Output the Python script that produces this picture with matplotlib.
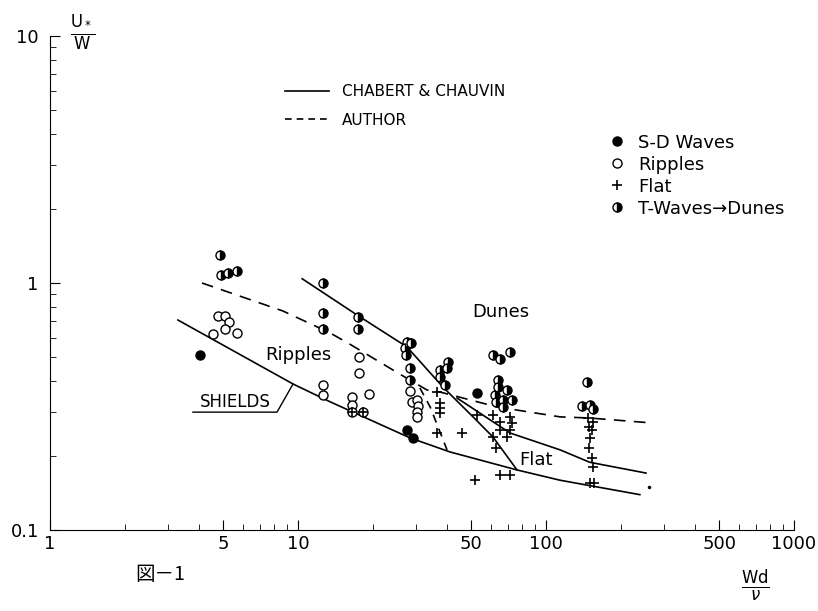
import matplotlib
matplotlib.use("Agg")
import matplotlib.pyplot as plt
from matplotlib.lines import Line2D

# curves (x = Wd/nu, y = U*/W)
shields_x = [3.28, 9.55, 13.5, 28.3, 41.0, 76.4, 114, 239]
shields_y = [0.708, 0.390, 0.330, 0.236, 0.207, 0.175, 0.159, 0.139]

chabert_x = [10.4, 17.3, 27.5, 38.4, 50.8, 61.1, 76.4]
chabert_y = [1.04, 0.742, 0.551, 0.379, 0.287, 0.238, 0.175]
chabert2_x = [43.8, 71.6, 114, 150, 253]
chabert2_y = [0.342, 0.247, 0.211, 0.188, 0.170]

author_x = [4.10, 8.70, 13.5, 16.2, 25.8, 33.1, 37.3, 63.4, 114, 150, 270]
author_y = [1.0, 0.770, 0.627, 0.565, 0.427, 0.369, 0.362, 0.315, 0.287, 0.284, 0.271]
author2_x = [31.0, 34.1, 39.9]
author2_y = [0.376, 0.315, 0.211]

# observations
tw_x = [4.85, 4.88, 5.22, 5.67, 12.6, 12.6, 12.6, 17.5, 17.5,
        27.5, 28.5, 27.0, 27.3, 28.3, 28.3, 40.3, 39.9, 37.3, 37.3, 39.0,
        61.1, 65.1, 71.6, 64.1, 64.1, 69.6, 62.1, 67.0, 73.1, 63.1, 67.0,
        146, 140, 150, 154]
tw_y = [1.30, 1.08, 1.10, 1.12, 1.0, 0.756, 0.652, 0.728, 0.652,
        0.577, 0.572, 0.545, 0.511, 0.453, 0.405, 0.479, 0.453, 0.444, 0.417, 0.386,
        0.511, 0.492, 0.526, 0.405, 0.379, 0.369, 0.352, 0.336, 0.336, 0.330, 0.315,
        0.397, 0.318, 0.321, 0.309]

sd_x = [4.03, 27.5, 29.0, 52.7]
sd_y = [0.511, 0.254, 0.236, 0.359]

rip_x = [4.76, 5.07, 5.27, 5.07, 4.54, 5.67, 17.6, 17.6, 12.6, 12.6, 16.5, 16.5,
         19.3, 16.5, 18.3, 28.3, 28.7, 30.1, 30.5, 30.1, 30.1]
rip_y = [0.735, 0.735, 0.695, 0.652, 0.622, 0.628, 0.501, 0.432, 0.386, 0.352, 0.346, 0.321,
         0.355, 0.300, 0.300, 0.365, 0.330, 0.336, 0.318, 0.301, 0.287]

flat_x = [16.5, 18.3, 36.4, 37.3, 37.3, 37.3, 36.4, 45.8, 51.7, 65.1, 71.6,
          52.7, 61.1, 65.1, 65.1, 61.1, 63.1, 71.6, 73.1, 71.6, 69.6,
          148, 154, 149, 153, 150, 149, 153, 155, 151, 156]
flat_y = [0.300, 0.300, 0.362, 0.327, 0.312, 0.298, 0.247, 0.247, 0.159, 0.167, 0.167,
          0.292, 0.292, 0.274, 0.254, 0.238, 0.215, 0.287, 0.271, 0.254, 0.238,
          0.284, 0.274, 0.261, 0.254, 0.236, 0.215, 0.196, 0.180, 0.155, 0.155]

speck_x = [260]
speck_y = [0.149]

x_major = [1, 5, 10, 50, 100, 500, 1000]
x_labels = ["1", "5", "10", "50", "100", "500", "1000"]
y_major = [0.1, 1, 10]
y_labels = ["0.1", "1", "10"]

plt.rcParams["font.family"] = ["DejaVu Sans"]

fig = plt.figure(figsize=(8.18, 6.11), dpi=100)
ax = fig.add_axes([0.0611, 0.1326, 0.9096, 0.8085])
ax.set_xscale("log")
ax.set_yscale("log")
ax.set_xlim(1, 1000)
ax.set_ylim(0.1, 10)

lw = 1.2
ax.plot(shields_x, shields_y, color="black", lw=lw)
ax.plot(chabert_x, chabert_y, color="black", lw=lw)
ax.plot(chabert2_x, chabert2_y, color="black", lw=lw)
ax.plot(author_x, author_y, color="black", lw=lw, dashes=(7, 5))
ax.plot(author2_x, author2_y, color="black", lw=lw, dashes=(5, 4))

mk = dict(linestyle="none", markersize=6.5, markeredgewidth=1.0, markeredgecolor="black")
half = dict(marker="o", fillstyle="right", markerfacecolor="black", markerfacecoloralt="white")
ax.plot(rip_x, rip_y, marker="o", markerfacecolor="white", **mk)
ax.plot(tw_x, tw_y, **half, **mk)
ax.plot(sd_x, sd_y, marker="o", markerfacecolor="black", **mk)
ax.plot(flat_x, flat_y, marker="+", color="black", linestyle="none", markersize=7, markeredgewidth=1.2)
ax.plot(speck_x, speck_y, marker=".", color="black", linestyle="none", markersize=3)

# region labels
ax.text(66, 0.76, "Dunes", fontsize=13, ha="center", va="center")
ax.text(10.0, 0.51, "Ripples", fontsize=13, ha="center", va="center")
ax.text(78, 0.192, "Flat", fontsize=13, ha="left", va="center")
ax.text(5.6, 0.33, "SHIELDS", fontsize=12, ha="center", va="center")
ax.plot([3.77, 8.23, 9.55], [0.300, 0.300, 0.390], color="black", lw=1.0)

# axes look
for side in ("top", "right"):
    ax.spines[side].set_visible(False)
ax.set_xticks(x_major, x_labels)
ax.set_yticks(y_major, y_labels)
x_minor = [m * d for d in (1, 10, 100) for m in (2, 3, 4, 6, 7, 8, 9)]
y_minor = [m * d for d in (0.1, 1) for m in (2, 3, 4, 5, 6, 7, 8, 9)]
ax.set_xticks(x_minor, minor=True)
ax.set_yticks(y_minor, minor=True)
ax.xaxis.set_minor_formatter(plt.NullFormatter())
ax.yaxis.set_minor_formatter(plt.NullFormatter())
ax.tick_params(which="both", direction="in", labelsize=13)
ax.tick_params(which="major", length=7)
ax.tick_params(which="minor", length=4)
ax.tick_params(axis="y", pad=8)

# legends
line_handles = [Line2D([], [], color="black", lw=lw),
                Line2D([], [], color="black", lw=lw, dashes=(4, 3))]
leg1 = ax.legend(line_handles, ["CHABERT & CHAUVIN", "AUTHOR"], loc="upper left",
                 bbox_to_anchor=(0.348, 0.8625), bbox_transform=fig.transFigure,
                 frameon=False, fontsize=11, borderpad=0, borderaxespad=0,
                 handlelength=2.9, handletextpad=0.85, labelspacing=0.9)
ax.add_artist(leg1)

mk_handles = [Line2D([], [], marker="o", markerfacecolor="black", **mk),
              Line2D([], [], marker="o", markerfacecolor="white", **mk),
              Line2D([], [], marker="+", color="black", linestyle="none", markersize=7, markeredgewidth=1.2),
              Line2D([], [], **half, **mk)]
ax.legend(mk_handles, ["S-D Waves", "Ripples", "Flat", "T-Waves\u2192Dunes"], loc="upper left",
          bbox_to_anchor=(0.7445, 0.781), bbox_transform=fig.transFigure,
          frameon=False, fontsize=13, borderpad=0, borderaxespad=0,
          handlelength=0.9, handletextpad=0.7, labelspacing=0.22)

# axis titles
fig.text(83 / 818, 1 - 33 / 611, r"$\frac{\mathrm{U_*}}{\mathrm{W}}$", fontsize=17, ha="center", va="center")
fig.text(755 / 818, 1 - 585 / 611, r"$\frac{\mathrm{Wd}}{\nu}$", fontsize=17, ha="center", va="center")
fig.text(135 / 818, 1 - 575 / 611, "図－1", fontsize=14, ha="left", va="center",
         family=["Noto Sans CJK JP", "DejaVu Sans"])

fig.savefig("out.png", dpi=100)
